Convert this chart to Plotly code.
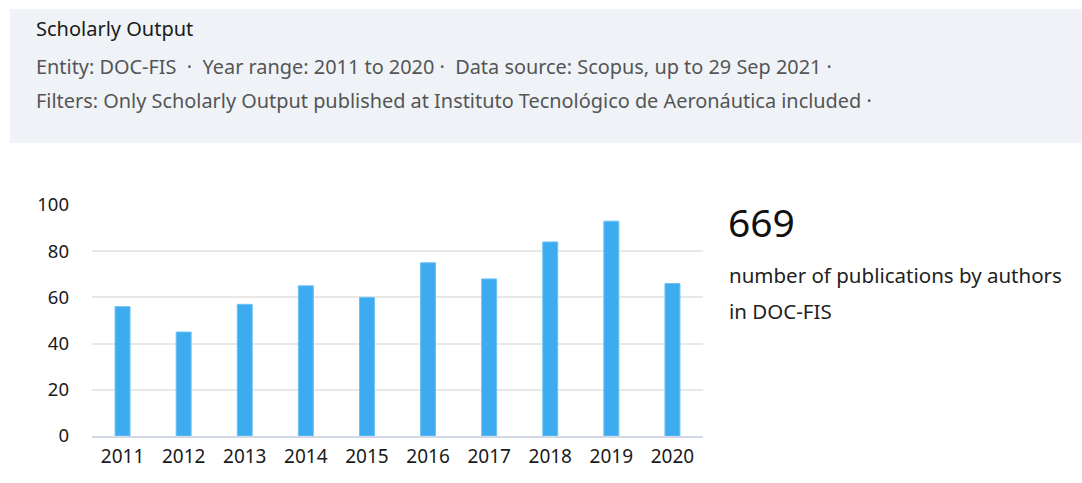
import plotly.graph_objects as go

years = ["2011", "2012", "2013", "2014", "2015", "2016", "2017", "2018", "2019", "2020"]
outputs = [56, 45, 57, 65, 60, 75, 68, 84, 93, 66]
y_ticks = [0, 20, 40, 60, 80, 100]
total_label = "669"

FONT = "Noto Sans"
W, H = 1082, 483
ML, MR, MT, MB = 92, 379, 205, 47

fig = go.Figure()
fig.add_trace(go.Bar(
    x=years, y=outputs,
    marker=dict(color="#3DABF0", line=dict(color="#6cc0f5", width=1)),
    hoverinfo="x+y",
))

fig.update_layout(
    width=W, height=H,
    margin=dict(l=ML, r=MR, t=MT, b=MB),
    paper_bgcolor="white", plot_bgcolor="white",
    bargap=0.755,
    showlegend=False,
    font=dict(family=FONT, color="#222222"),
    xaxis=dict(type="category", showgrid=False, showline=True, linecolor="#d3d8e6", linewidth=2,
               ticks="", tickfont=dict(size=19, color="#1a1a1a"), ticklabelstandoff=2),
    yaxis=dict(range=[0, 100], tickvals=y_ticks, showgrid=True, gridcolor="#e8e8e8", gridwidth=2,
               zeroline=False, showline=False, ticks="", tickfont=dict(size=18.5, color="#1a1a1a"),
               ticklabelstandoff=22),
)

def px_x(x):
    return (x - ML) / (W - ML - MR)

def px_y(y):
    return ((H - y) - MB) / (H - MT - MB)

# header band
fig.add_shape(type="rect", xref="paper", yref="paper",
              x0=px_x(10), x1=px_x(W), y0=px_y(143), y1=px_y(9),
              fillcolor="#eff3f7", line=dict(width=0), layer="below")

header = [
    ("Scholarly Output", 28, 20, "#1a1a1a"),
    ("Entity: DOC-FIS  ·  Year range: 2011 to 2020 ·  Data source: Scopus, up to 29 Sep 2021 ·", 66, 19.9, "#555555"),
    ("Filters: Only Scholarly Output published at Instituto Tecnológico de Aeronáutica included ·", 101, 19.9, "#555555"),
]
for txt, yc, sz, col in header:
    fig.add_annotation(text=txt, xref="paper", yref="paper", x=px_x(34), y=px_y(yc),
                       xanchor="left", yanchor="middle", showarrow=False,
                       font=dict(family=FONT, size=sz, color=col))

fig.add_annotation(text=total_label, xref="paper", yref="paper", x=px_x(726), y=px_y(221),
                   xanchor="left", yanchor="middle", showarrow=False,
                   font=dict(family=FONT, size=39, color="#111111"))
fig.add_annotation(text="number of publications by authors", xref="paper", yref="paper",
                   x=px_x(727), y=px_y(275), xanchor="left", yanchor="middle", showarrow=False,
                   font=dict(family=FONT, size=20.5, color="#222222"))
fig.add_annotation(text="in DOC-FIS", xref="paper", yref="paper",
                   x=px_x(727), y=px_y(311), xanchor="left", yanchor="middle", showarrow=False,
                   font=dict(family=FONT, size=20.5, color="#222222"))

fig.write_html("out.html", config={"displayModeBar": False},
               post_script="document.body.style.margin='0';")
